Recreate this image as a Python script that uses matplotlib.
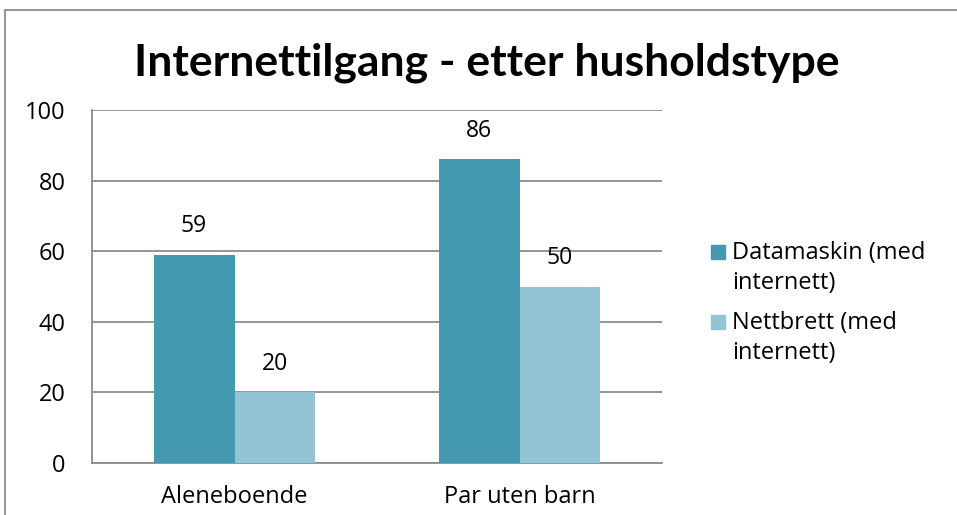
import matplotlib.pyplot as plt
from matplotlib.patches import Rectangle
import numpy as np

categories = ["Aleneboende", "Par uten barn"]
datamaskin = [59, 86]
nettbrett = [20, 50]
series_names = ["Datamaskin (med\ninternett)", "Nettbrett (med\ninternett)"]
yticks = [0, 20, 40, 60, 80, 100]

dark = "#4499B0"
light = "#93C4D6"
grid_col = "#8C8C8C"

plt.rcParams['font.family'] = ['Open Sans', 'DejaVu Sans']

W, H = 957, 515
fig = plt.figure(figsize=(W / 100, H / 100), dpi=100)
ax = fig.add_axes([92 / W, 1 - 463 / H, 570 / W, 353 / H])

# outer chart frame
fig.patches.append(Rectangle((5 / W, -0.1), 1.1, 0.1 + 1 - 10 / H, transform=fig.transFigure,
                             fill=False, edgecolor="#8C8C8C", linewidth=1.3))

x = np.arange(len(categories))
w = 0.284
b1 = ax.bar(x - w / 2, datamaskin, w, color=dark, zorder=3)
b2 = ax.bar(x + w / 2, nettbrett, w, color=light, zorder=3)
ax.bar_label(b1, padding=12, fontsize=16.5)
ax.bar_label(b2, padding=12, fontsize=16.5)

ax.set_xlim(-0.5, 1.5)
ax.set_ylim(0, 100)
ax.set_yticks(yticks)
ax.set_xticks(x)
ax.set_xticklabels(categories)
ax.tick_params(axis='both', length=0, labelsize=17)
ax.tick_params(axis='x', pad=16)
ax.tick_params(axis='y', pad=19)
ax.yaxis.grid(True, color=grid_col, linewidth=1.3, zorder=0)
ax.set_axisbelow(True)
for s in ["top", "right"]:
    ax.spines[s].set_visible(False)
for s in ["left", "bottom"]:
    ax.spines[s].set_color(grid_col)
    ax.spines[s].set_linewidth(1.3)

fig.text(0.509, 0.878, "Internettilgang - etter husholdstype", ha="center", va="center",
         fontsize=32, fontweight="bold", family=["Lato", "DejaVu Sans"])

# legend, square next to the first line of each entry
for i, (name, col) in enumerate(zip(series_names, [dark, light])):
    y0 = 252 + 70 * i
    fig.patches.append(Rectangle((711 / W, 1 - (y0 + 7) / H), 14 / W, 14 / H,
                                 transform=fig.transFigure, color=col))
    fig.text(732 / W, 1 - (y0 + 16) / H, name, ha="left", va="center",
             fontsize=17, linespacing=1.35)

fig.savefig("out.png", dpi=100)
